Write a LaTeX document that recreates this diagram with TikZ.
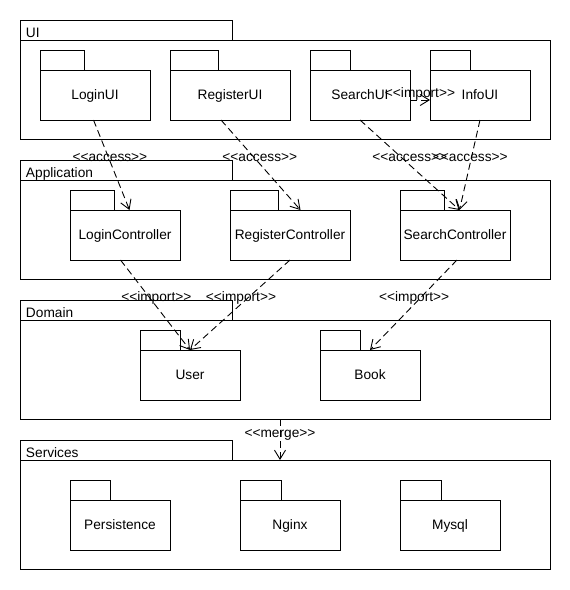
\documentclass[tikz,border=0pt]{standalone}
\usepackage{fontspec}
\setmainfont{Liberation Sans}
\usetikzlibrary{positioning,arrows.meta}

\newcommand{\stereo}[1]{<\kern0pt<#1>\kern0pt>}

\begin{document}
\begin{tikzpicture}[x=1pt, y=-1pt, line width=0.9pt,
    font=\fontsize{13.7pt}{16pt}\selectfont,
    pkg/.style={draw, anchor=north west, minimum height=50pt, inner sep=0pt, outer sep=0pt, text depth=0pt},
    pkgtab/.style={draw, anchor=south west, minimum height=20pt, inner sep=0pt, outer sep=0pt},
    bigpkg/.style={draw, anchor=north west, minimum width=530pt, inner sep=0pt, outer sep=0pt},
    bigtab/.style={draw, anchor=south west, text width=200pt, inner xsep=6pt, inner ysep=0pt,
        minimum height=20pt, text height=15.5pt, text depth=0pt, align=left, outer sep=0pt},
    dep/.style={dash pattern=on 7pt off 4pt, -{Straight Barb[length=9pt,width=11pt]}},
    lbl/.style={inner sep=0pt, yshift=-2pt}]
    \useasboundingbox (0,0) rectangle (570,590);

    % UI layer
    \node[bigpkg, minimum height=99pt] (UIpkg) at (20,40) {};
    \node[bigtab] (UItab) at (UIpkg.north west) {UI};
    \node[pkg, minimum width=110pt] (LoginUI) at (40,70) {LoginUI};
    \node[pkgtab, minimum width=44pt] (LoginUItab) at (LoginUI.north west) {};
    \node[pkg, minimum width=120pt] (RegisterUI) at (170,70) {RegisterUI};
    \node[pkgtab, minimum width=48pt] (RegisterUItab) at (RegisterUI.north west) {};
    \node[pkg, minimum width=100pt] (SearchUI) at (310,70) {SearchUI};
    \node[pkgtab, minimum width=40pt] (SearchUItab) at (SearchUI.north west) {};
    \node[pkg, minimum width=100pt] (InfoUI) at (430,70) {InfoUI};
    \node[pkgtab, minimum width=40pt] (InfoUItab) at (InfoUI.north west) {};

    % Application layer
    \node[bigpkg, minimum height=99pt] (Apppkg) at (20,180) {};
    \node[bigtab] (Apptab) at (Apppkg.north west) {Application};
    \node[pkg, minimum width=110pt] (LoginCtrl) at (70,210) {LoginController};
    \node[pkgtab, minimum width=44pt] (LoginCtrltab) at (LoginCtrl.north west) {};
    \node[pkg, minimum width=120pt] (RegisterCtrl) at (230,210) {RegisterController};
    \node[pkgtab, minimum width=48pt] (RegisterCtrltab) at (RegisterCtrl.north west) {};
    \node[pkg, minimum width=110pt] (SearchCtrl) at (400,210) {SearchController};
    \node[pkgtab, minimum width=44pt] (SearchCtrltab) at (SearchCtrl.north west) {};

    % Domain layer
    \node[bigpkg, minimum height=99pt] (Domainpkg) at (20,320) {};
    \node[bigtab] (Domaintab) at (Domainpkg.north west) {Domain};
    \node[pkg, minimum width=100pt] (User) at (140,350) {User};
    \node[pkgtab, minimum width=40pt] (Usertab) at (User.north west) {};
    \node[pkg, minimum width=100pt] (Book) at (320,350) {Book};
    \node[pkgtab, minimum width=40pt] (Booktab) at (Book.north west) {};

    % Services layer
    \node[bigpkg, minimum height=109pt] (Servpkg) at (20,460) {};
    \node[bigtab] (Servtab) at (Servpkg.north west) {Services};
    \node[pkg, minimum width=100pt] (Persistence) at (70,500) {Persistence};
    \node[pkgtab, minimum width=40pt] (Persistencetab) at (Persistence.north west) {};
    \node[pkg, minimum width=100pt] (Nginx) at (240,500) {Nginx};
    \node[pkgtab, minimum width=41pt] (Nginxtab) at (Nginx.north west) {};
    \node[pkg, minimum width=100pt] (Mysql) at (400,500) {Mysql};
    \node[pkgtab, minimum width=41pt] (Mysqltab) at (Mysql.north west) {};

    % dependencies UI -> Application
    \draw[dep] ([xshift=-1.5pt]LoginUI.south) -- node[lbl, pos=0.4, xshift=2pt] {\stereo{access}} ([xshift=4.5pt]LoginCtrl.north);
    \draw[dep] ([xshift=-9pt]RegisterUI.south) -- node[lbl, pos=0.4, xshift=7pt] {\stereo{access}} ([xshift=10.5pt]RegisterCtrl.north);
    \draw[dep] (SearchUI.south) -- node[lbl, pos=0.4, xshift=10pt] {\stereo{access}} ([xshift=4.5pt]SearchCtrl.north);
    \draw[dep] (InfoUI.south) -- node[lbl, pos=0.4, xshift=-1.5pt] {\stereo{access}} ([xshift=4.5pt]SearchCtrl.north);
    \draw[dep] ([yshift=-5pt]SearchUI.east) -- node[lbl, yshift=8pt] {\stereo{import}} ([yshift=-5pt]InfoUI.west);

    % dependencies Application -> Domain
    \draw[dep] ([xshift=-4.5pt]LoginCtrl.south) -- node[lbl, pos=0.4, xshift=8pt] {\stereo{import}} (User.north);
    \draw[dep] (RegisterCtrl.south) -- node[lbl, pos=0.4, xshift=-9pt] {\stereo{import}} (User.north);
    \draw[dep] ([xshift=2pt]SearchCtrl.south) -- node[lbl, pos=0.4, xshift=-8pt] {\stereo{import}} (Book.north);

    % Domain -> Services
    \draw[dep] ([xshift=-5pt]Domainpkg.south) -- node[lbl, pos=0.35] {\stereo{merge}} ([xshift=-5pt]Servpkg.north);
\end{tikzpicture}
\end{document}
